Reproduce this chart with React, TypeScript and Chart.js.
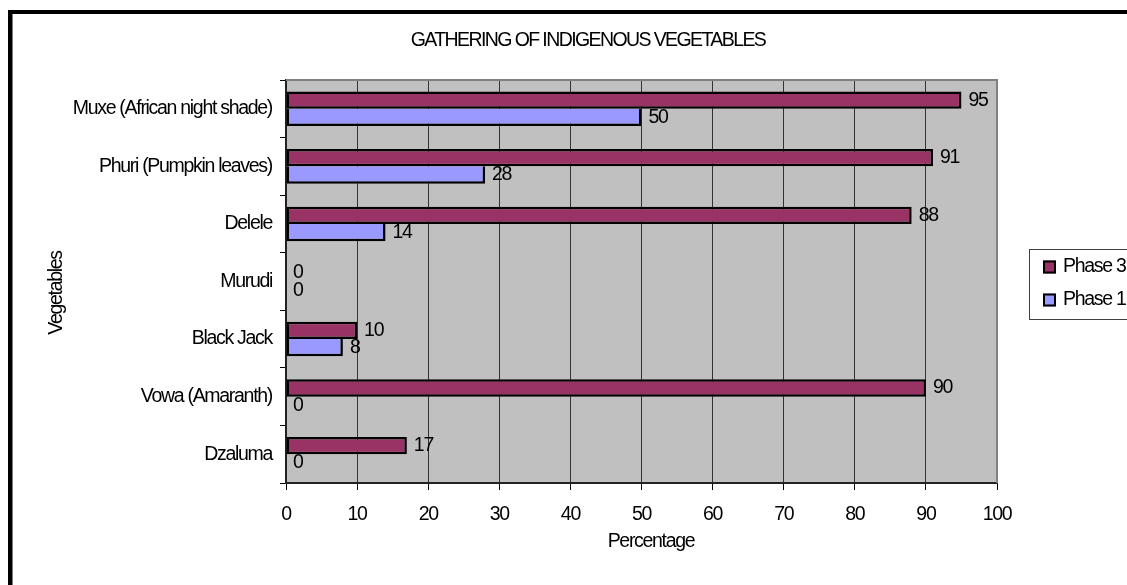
import React, { useEffect, useRef } from "react";
import { Chart, registerables } from "chart.js";

Chart.register(...registerables);

const W = 1127;
const H = 585;

const chartTitle = "GATHERING OF INDIGENOUS VEGETABLES";
const yTitle = "Vegetables";
const xTitle = "Percentage";
const categories = [
  "Muxe (African night shade)",
  "Phuri (Pumpkin leaves)",
  "Delele",
  "Murudi",
  "Black Jack",
  "Vowa (Amaranth)",
  "Dzaluma",
];
const seriesNames = ["Phase 3", "Phase 1"];
const phase3 = [95, 91, 88, 0, 10, 90, 17];
const phase1 = [50, 28, 14, 0, 8, 0, 0];
const colors = ["#993366", "#9999FF"];

const FONT = "'Liberation Sans', Arial, sans-serif";
const SPACING = "-1.3px";
const FS = 19.5;

const framePlugin = {
  id: "frame",
  beforeDraw(chart: any) {
    const { ctx, chartArea: a } = chart;
    ctx.save();
    ctx.fillStyle = "#ffffff";
    ctx.fillRect(0, 0, W, H);
    ctx.fillStyle = "#C0C0C0";
    ctx.fillRect(a.left, a.top, a.right - a.left, a.bottom - a.top);
    ctx.restore();
    ctx.letterSpacing = SPACING;
  },
  afterDatasetsDraw(chart: any) {
    const { ctx } = chart;
    ctx.save();
    ctx.letterSpacing = SPACING;
    ctx.font = `${FS}px ${FONT}`;
    ctx.fillStyle = "#000";
    ctx.textAlign = "left";
    ctx.textBaseline = "middle";
    chart.data.datasets.forEach((ds: any, di: number) => {
      const meta = chart.getDatasetMeta(di);
      meta.data.forEach((el: any, i: number) => {
        ctx.fillText(String(ds.data[i]), el.x + 7, el.y);
      });
    });
    ctx.restore();
  },
  afterDraw(chart: any) {
    const { ctx, chartArea: a } = chart;
    ctx.save();
    ctx.letterSpacing = SPACING;
    // plot frame top/right
    ctx.strokeStyle = "#808080";
    ctx.lineWidth = 2;
    ctx.beginPath();
    ctx.moveTo(a.left, a.top);
    ctx.lineTo(a.right, a.top);
    ctx.lineTo(a.right, a.bottom);
    ctx.stroke();
    // outer border
    ctx.fillStyle = "#000";
    ctx.fillRect(8, 10, 4.5, H);
    ctx.fillRect(8, 10, W, 4);
    // title
    ctx.fillStyle = "#000";
    ctx.textBaseline = "middle";
    ctx.textAlign = "center";
    ctx.font = `${FS}px ${FONT}`;
    ctx.letterSpacing = "-1.6px";
    ctx.fillText(chartTitle, 588, 41);
    ctx.letterSpacing = SPACING;
    // x title
    ctx.fillText(xTitle, 651, 542);
    // y title
    ctx.save();
    ctx.translate(57, 293);
    ctx.rotate(-Math.PI / 2);
    ctx.fillText(yTitle, 0, 0);
    ctx.restore();
    // legend
    ctx.strokeStyle = "#404040";
    ctx.lineWidth = 1;
    ctx.strokeRect(1029.5, 249.5, 200, 70);
    const rows = [267, 300];
    seriesNames.forEach((name, i) => {
      ctx.fillStyle = colors[i];
      ctx.fillRect(1043, rows[i] - 6.5, 13, 13);
      ctx.strokeStyle = "#000";
      ctx.lineWidth = 2;
      ctx.strokeRect(1044, rows[i] - 5.5, 11, 11);
      ctx.fillStyle = "#000";
      ctx.textAlign = "left";
      ctx.fillText(name, 1063, rows[i]);
    });
    ctx.restore();
  },
};

export default function App() {
  const ref = useRef<HTMLCanvasElement>(null);
  useEffect(() => {
    if (!ref.current) return;
    const chart = new Chart(ref.current, {
      type: "bar",
      data: {
        labels: categories,
        datasets: [
          {
            label: seriesNames[0],
            data: phase3,
            backgroundColor: colors[0],
            borderColor: "#000",
            borderWidth: 2.5,
            borderSkipped: false,
            categoryPercentage: 0.6,
            barPercentage: 1,
          },
          {
            label: seriesNames[1],
            data: phase1,
            backgroundColor: colors[1],
            borderColor: "#000",
            borderWidth: 2.5,
            borderSkipped: "top",
            categoryPercentage: 0.6,
            barPercentage: 1,
          },
        ],
      },
      options: {
        indexAxis: "y",
        responsive: false,
        animation: false,
        events: [],
        layout: { padding: { top: 80, right: 130, bottom: 22, left: 0 } },
        plugins: {
          legend: { display: false },
          title: { display: false },
          tooltip: { enabled: false },
        },
        scales: {
          x: {
            min: 0,
            max: 100,
            ticks: {
              stepSize: 10,
              color: "#000",
              font: { family: FONT, size: FS },
              padding: 13,
            },
            grid: {
              color: "#333333",
              lineWidth: 1,
              tickLength: 7,
              tickColor: "#000",
              drawOnChartArea: true,
            },
            border: { display: true, color: "#222", width: 2 },
            afterFit(s: any) {
              s.height = 80;
            },
          },
          y: {
            ticks: {
              color: "#000",
              font: { family: FONT, size: FS },
              padding: 8,
            },
            grid: {
              drawOnChartArea: false,
              tickLength: 6,
              tickColor: "#000",
              offset: true,
            },
            border: { display: true, color: "#222", width: 2 },
            afterFit(s: any) {
              s.width = 286;
            },
          },
        },
      },
      plugins: [framePlugin],
    });
    return () => chart.destroy();
  }, []);
  return (
    <div style={{ position: "fixed", left: 0, top: 0, width: W, height: H, overflow: "hidden" }}>
      <canvas ref={ref} width={W} height={H} style={{ display: "block", width: W, height: H }} />
    </div>
  );
}
